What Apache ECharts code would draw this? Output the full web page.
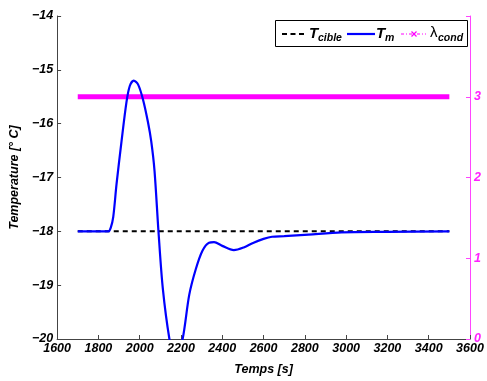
<!DOCTYPE html>
<html><head><meta charset="utf-8">
<script src="https://cdn.jsdelivr.net/npm/echarts@6/dist/echarts.min.js"></script>
<style>html,body{margin:0;padding:0;background:#fff}#c{width:487px;height:381px}</style>
</head><body><div id="c"></div>
<script>
const xTicks = [1600,1800,2000,2200,2400,2600,2800,3000,3200,3400,3600];
const yLeftTicks = [-20,-19,-18,-17,-16,-15,-14];
const yRightTicks = [0,1,2,3];
const cibleTime = [1700, 3500];
const cibleVal = [-18, -18];
const tmTime = [1700,1800,1848,1860,1872,1888,1912,1936,1952,1971,1992,2016,2040,2056,2072,2091,2112,2144,2172,2208,2240,2272,2304,2336,2360,2400,2456,2504,2552,2600,2641,2700,2818,2978,3200,3500];
const tmVal = [-18,-18,-18,-17.93,-17.73,-17.12,-16.33,-15.6,-15.3,-15.2,-15.27,-15.55,-15.97,-16.33,-16.88,-18,-19.06,-20,-20.45,-20,-19.18,-18.7,-18.36,-18.21,-18.2,-18.27,-18.35,-18.3,-18.21,-18.14,-18.1,-18.09,-18.06,-18.02,-18.01,-18];
const lambdaTime = [1700, 3500];
const lambdaVal = [3, 3];

const zip = (a,b)=>a.map((v,i)=>[v,b[i]]);
const FONT = 'Liberation Sans';
const lab = {fontFamily:FONT,fontWeight:'bold',fontStyle:'italic',fontSize:12.5,color:'#000'};
const chart = echarts.init(document.getElementById('c'), null, {renderer:'canvas'});
const tMain = (x,t)=>({type:'text',left:x,top:26,z:101,style:{text:t,font:'italic bold 15px "Liberation Sans"',fill:'#000'}});
const tSub = (x,t)=>({type:'text',left:x,top:33,z:101,style:{text:t,font:'italic bold 10.5px "Liberation Sans"',fill:'#000'}});
chart.setOption({
  animation:false,
  grid:{left:54,right:17,top:16,bottom:37},
  graphic:[
    {type:'rect',shape:{x:275.5,y:20.5,width:192,height:26},style:{fill:'#fff',stroke:'#000',lineWidth:1},z:100},
    {type:'line',shape:{x1:282,y1:34,x2:304,y2:34},style:{stroke:'#000',lineWidth:2,lineDash:[5,3.5]},z:101},
    tMain(309,'T'), tSub(318,'cible'),
    {type:'line',shape:{x1:347,y1:34,x2:375,y2:34},style:{stroke:'#0000ff',lineWidth:2.2},z:101},
    tMain(376,'T'), tSub(385,'m'),
    {type:'line',shape:{x1:401,y1:34,x2:426,y2:34},style:{stroke:'#ff00ff',lineWidth:1,lineDash:[3,2,1,2]},z:101},
    {type:'polyline',shape:{points:[[411.5,31.5],[416.5,36.5]]},style:{stroke:'#ff00ff',lineWidth:1.2},z:102},
    {type:'polyline',shape:{points:[[416.5,31.5],[411.5,36.5]]},style:{stroke:'#ff00ff',lineWidth:1.2},z:102},
    {type:'text',left:430,top:25,z:101,style:{text:'λ',font:'15px "Liberation Sans"',fill:'#000'}},
    tSub(438,'cond')
  ],
  xAxis:{
    type:'value', min:1600, max:3600, interval:200,
    name:'Temps [s]', nameLocation:'middle', nameGap:24,
    nameTextStyle:lab,
    axisLine:{show:true,lineStyle:{color:'#444',width:1}},
    axisTick:{show:true,inside:true,length:4,lineStyle:{color:'#444'}},
    axisLabel:Object.assign({},lab,{margin:3,formatter:v=>String(v)}),
    splitLine:{show:false}
  },
  yAxis:[{
    type:'value', min:-20, max:-14, interval:1, position:'left',
    name:'Temperature [° C]', nameLocation:'middle', nameGap:30, nameRotate:90,
    nameTextStyle:lab,
    axisLine:{show:true,lineStyle:{color:'#444',width:1}},
    axisTick:{show:true,inside:true,length:4,lineStyle:{color:'#444'}},
    axisLabel:Object.assign({},lab,{margin:4,formatter:v=>String(v).replace('-','\u2212')}),
    splitLine:{show:false}
  },{
    type:'value', min:0, max:4, interval:1, position:'right',
    axisLine:{show:true,lineStyle:{color:'#ff44ff',width:1}},
    axisTick:{show:true,inside:true,length:4,lineStyle:{color:'#ff44ff'}},
    axisLabel:Object.assign({},lab,{color:'#ff22ff',margin:4,formatter:v=>yRightTicks.includes(v)?String(v):''}),
    splitLine:{show:false}
  }],
  series:[
    {name:'cible',type:'line',yAxisIndex:0,data:zip(cibleTime,cibleVal),symbol:'none',
     lineStyle:{color:'#000',width:2,type:[5,4]},itemStyle:{color:'#000'},z:3},
    {name:'m',type:'line',yAxisIndex:0,data:zip(tmTime,tmVal),symbol:'none',smooth:0.3,
     lineStyle:{color:'#0000ff',width:2.2},itemStyle:{color:'#0000ff'},z:4},
    {name:'lambda',type:'line',yAxisIndex:1,data:zip(lambdaTime,lambdaVal),symbol:'none',
     lineStyle:{color:'#ff00ff',width:5},itemStyle:{color:'#ff00ff'},z:2}
  ]
});
</script></body></html>
